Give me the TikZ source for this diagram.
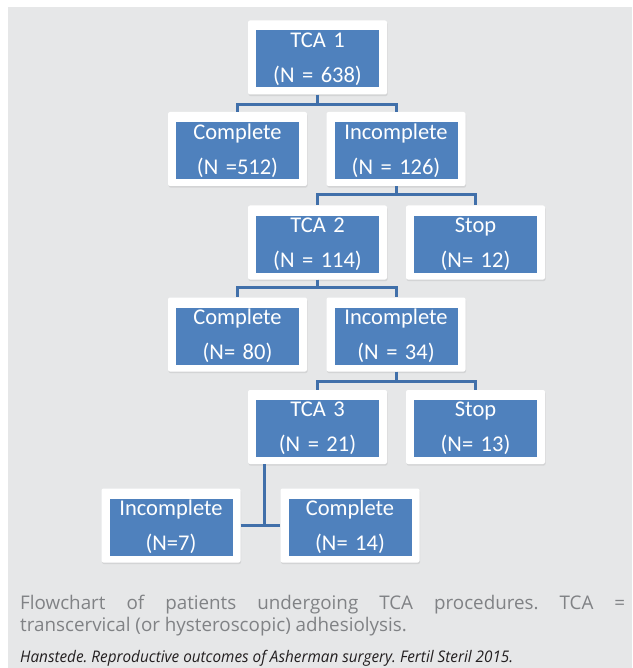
\documentclass[tikz,border=0pt]{standalone}
\usepackage{fontspec}
\setmainfont{Carlito}
\newfontfamily\capfont{Open Sans}
\usetikzlibrary{shadows,calc}
\definecolor{panel}{HTML}{E6E7E8}
\definecolor{boxblue}{HTML}{4F81BD}
\definecolor{linkblue}{HTML}{4170AA}
\definecolor{capgrey}{HTML}{808285}
\definecolor{citeblack}{HTML}{231F20}
\tikzset{
  frame/.style={fill=white, rounded corners=2pt, minimum width=139pt, minimum height=74pt, inner sep=0pt,
    drop shadow={opacity=0.18, shadow xshift=0.6pt, shadow yshift=-1.6pt}},
  bluebox/.style={fill=boxblue, text=white, minimum width=123pt, minimum height=57pt, inner sep=0pt,
    text width=123pt, align=center, font=\fontsize{22.5}{35}\selectfont},
  conn/.style={draw=linkblue, line width=3pt},
  capline/.style={anchor=base west, inner sep=0pt, text=capgrey, font=\capfont\fontsize{18.8}{22}\selectfont},
}
\newcommand{\flowbox}[4]{%
  \node[frame] (#1) at (#2) {};
  \node[bluebox] (#1b) at ($(#1)+(0,1.5)$) {#3\\#4};
}
\begin{document}
\begin{tikzpicture}[x=1pt,y=-1pt]
\frenchspacing
\useasboundingbox (0,0) rectangle (632,668);
\fill[white] (0,0) rectangle (632,668);
\fill[panel] (8,7) rectangle (632,668);
% junctions
\coordinate (j1) at (317.5,105);
\coordinate (j2) at (396,195);
\coordinate (j3) at (317.5,287);
\coordinate (j4) at (396,381);
\coordinate (j5) at (264,525.5);
% boxes
\flowbox{tca1}{317.5,57.5}{TCA 1}{(N = 638)}
\flowbox{comp1}{237.5,149}{Complete}{(N =512)}
\flowbox{inc1}{396,149}{Incomplete}{(N = 126)}
\flowbox{tca2}{317.5,242.5}{TCA 2}{(N = 114)}
\flowbox{stop1}{475.5,242.5}{Stop}{(N= 12)}
\flowbox{comp2}{237.5,334.5}{Complete}{(N= 80)}
\flowbox{inc2}{396,334.5}{Incomplete}{(N = 34)}
\flowbox{tca3}{317.5,427}{TCA 3}{(N = 21)}
\flowbox{stop2}{475.5,427}{Stop}{(N= 13)}
\flowbox{inc3}{171,525.5}{Incomplete}{(N=7)}
\flowbox{comp3}{350,525.5}{Complete}{(N= 14)}
% connectors
\draw[conn] (tca1.south) -- (j1) -| (comp1.north);
\draw[conn] (j1) -| (inc1.north);
\draw[conn] (inc1.south) -- (j2) -| (tca2.north);
\draw[conn] (j2) -| (stop1.north);
\draw[conn] (tca2.south) -- (j3) -| (comp2.north);
\draw[conn] (j3) -| (inc2.north);
\draw[conn] (inc2.south) -- (j4) -| (tca3.north);
\draw[conn] (j4) -| (stop2.north);
\draw[conn] (j5 |- tca3.south) -- (j5);
\draw[conn] (inc3.east) -- (comp3.west);
% caption
\node[capline] (cap1) at (20,609) {\makebox[605pt][s]{Flowchart of patients undergoing TCA procedures. TCA =}};
\node[capline] (cap2) at (20,631) {transcervical (or hysteroscopic) adhesiolysis.};
\node[anchor=base west, inner sep=0pt, text=citeblack] (cite) at (20,662)
  {\resizebox{493pt}{\height}{\capfont\itshape\fontsize{16}{18}\selectfont Hanstede. Reproductive outcomes of Asherman surgery. Fertil Steril 2015.}};
\end{tikzpicture}
\end{document}
